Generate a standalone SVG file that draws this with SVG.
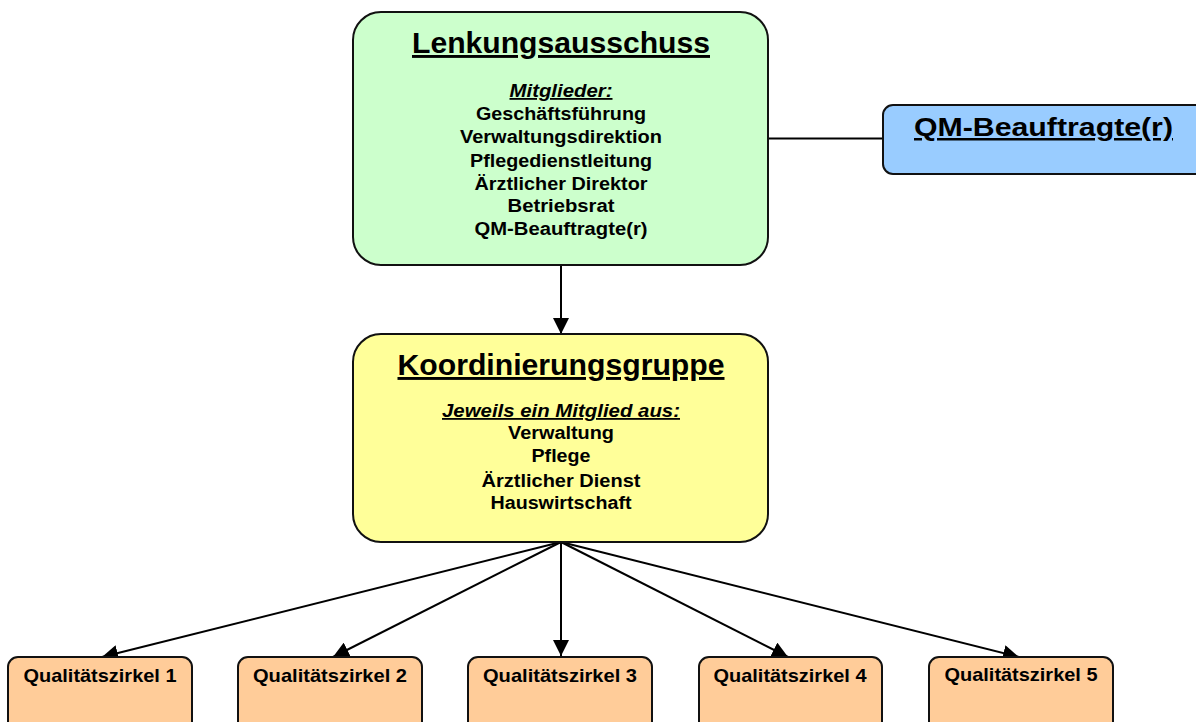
<svg xmlns="http://www.w3.org/2000/svg" width="1196" height="722" viewBox="0 0 1196 722">
<style>
text{font-family:"Liberation Sans",Arial,sans-serif;font-weight:bold;fill:#000;text-anchor:middle}
.box{stroke:#111;stroke-width:2}
.title{font-size:29px;text-decoration:underline}
.sub{font-size:18px;font-style:italic;text-decoration:underline}
.item{font-size:18px}
.qz{font-size:19px}
.qm{font-size:25px;text-decoration:underline}
.con{stroke:#000;stroke-width:2;fill:none}
</style>
<defs>
<marker id="arr" markerUnits="userSpaceOnUse" markerWidth="16" markerHeight="16" refX="14" refY="7" orient="auto" viewBox="0 0 14 14">
<path d="M0,0 L14,7 L0,14 z" fill="#000"/>
</marker>
</defs>
<rect width="1196" height="722" fill="#fff"/>
<g id="connectors">
<line class="con" x1="768" y1="138.5" x2="883" y2="138.5"/>
<line class="con" x1="561" y1="265" x2="561" y2="334" marker-end="url(#arr)"/>
<line class="con" x1="561" y1="542" x2="102" y2="657" marker-end="url(#arr)"/>
<line class="con" x1="561" y1="542" x2="333" y2="657" marker-end="url(#arr)"/>
<line class="con" x1="561" y1="542" x2="561" y2="656" marker-end="url(#arr)"/>
<line class="con" x1="561" y1="542" x2="788" y2="657" marker-end="url(#arr)"/>
<line class="con" x1="561" y1="542" x2="1019" y2="657" marker-end="url(#arr)"/>
</g>
<g id="lenkungsausschuss">
<rect class="box" x="353" y="12" width="415" height="253" rx="28" fill="#CCFFCC"/>
<text class="title" x="561" y="53" textLength="298" lengthAdjust="spacingAndGlyphs">Lenkungsausschuss</text>
<text class="sub" x="561" y="97" textLength="103" lengthAdjust="spacingAndGlyphs">Mitglieder:</text>
<text class="item" x="561" y="120" textLength="170" lengthAdjust="spacingAndGlyphs">Geschäftsführung</text>
<text class="item" x="561" y="143.3" textLength="202" lengthAdjust="spacingAndGlyphs">Verwaltungsdirektion</text>
<text class="item" x="561" y="166.7" textLength="182" lengthAdjust="spacingAndGlyphs">Pflegedienstleitung</text>
<text class="item" x="561" y="190" textLength="173" lengthAdjust="spacingAndGlyphs">Ärztlicher Direktor</text>
<text class="item" x="561" y="212.3" textLength="107" lengthAdjust="spacingAndGlyphs">Betriebsrat</text>
<text class="item" x="561" y="235.3" textLength="173" lengthAdjust="spacingAndGlyphs">QM-Beauftragte(r)</text>
</g>
<g id="qm-beauftragte">
<rect class="box" x="883" y="105" width="330" height="69" rx="10" fill="#99CCFF"/>
<text class="qm" x="1043.5" y="136" textLength="259" lengthAdjust="spacingAndGlyphs">QM-Beauftragte(r)</text>
</g>
<g id="koordinierungsgruppe">
<rect class="box" x="353" y="334" width="415" height="208" rx="28" fill="#FFFF99"/>
<text class="title" x="561" y="375" textLength="327" lengthAdjust="spacingAndGlyphs">Koordinierungsgruppe</text>
<text class="sub" x="561" y="417" textLength="238" lengthAdjust="spacingAndGlyphs">Jeweils ein Mitglied aus:</text>
<text class="item" x="561" y="439.3" textLength="106" lengthAdjust="spacingAndGlyphs">Verwaltung</text>
<text class="item" x="561" y="462" textLength="59" lengthAdjust="spacingAndGlyphs">Pflege</text>
<text class="item" x="561" y="486.5" textLength="159" lengthAdjust="spacingAndGlyphs">Ärztlicher Dienst</text>
<text class="item" x="561" y="509" textLength="141" lengthAdjust="spacingAndGlyphs">Hauswirtschaft</text>
</g>
<g id="qz1">
<rect class="box" x="8" y="657" width="184" height="80" rx="10" fill="#FFCC99"/>
<text class="qz" x="100" y="682" textLength="153" lengthAdjust="spacingAndGlyphs">Qualitätszirkel 1</text>
</g>
<g id="qz2">
<rect class="box" x="238" y="657" width="184" height="80" rx="10" fill="#FFCC99"/>
<text class="qz" x="330" y="682" textLength="154" lengthAdjust="spacingAndGlyphs">Qualitätszirkel 2</text>
</g>
<g id="qz3">
<rect class="box" x="468" y="657" width="184" height="80" rx="10" fill="#FFCC99"/>
<text class="qz" x="560" y="682" textLength="154" lengthAdjust="spacingAndGlyphs">Qualitätszirkel 3</text>
</g>
<g id="qz4">
<rect class="box" x="699" y="657" width="183" height="80" rx="10" fill="#FFCC99"/>
<text class="qz" x="790" y="682" textLength="153" lengthAdjust="spacingAndGlyphs">Qualitätszirkel 4</text>
</g>
<g id="qz5">
<rect class="box" x="929" y="657" width="184" height="80" rx="10" fill="#FFCC99"/>
<text class="qz" x="1021" y="681" textLength="153" lengthAdjust="spacingAndGlyphs">Qualitätszirkel 5</text>
</g>
</svg>
